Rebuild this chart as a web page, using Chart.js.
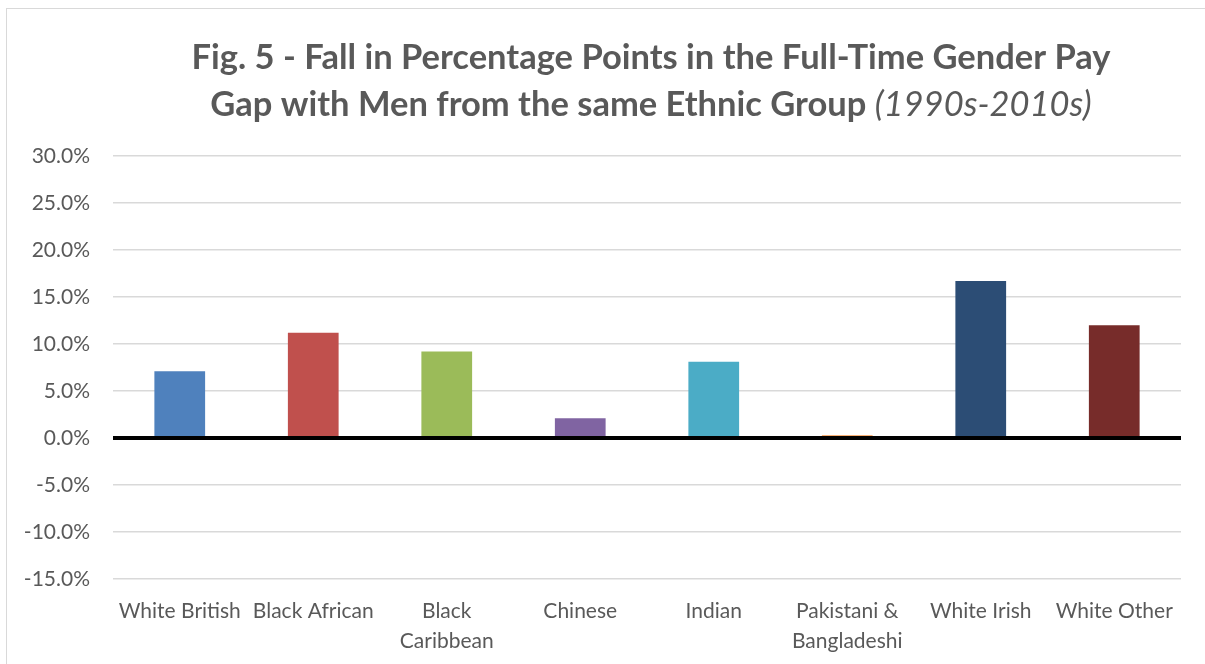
<!DOCTYPE html>
<html>
<head>
<meta charset="utf-8">
<script src="https://cdn.jsdelivr.net/npm/chart.js@4.4.0/dist/chart.umd.min.js"></script>
<style>
  html, body { margin: 0; padding: 0; background: #fff; }
  #wrap { position: absolute; left: 0; top: 0; width: 1205px; height: 664px; }
  #frame { position: absolute; left: 6px; top: 8px; width: 1240px; height: 700px; border: 1.5px solid #d9d9d9; }
</style>
</head>
<body>
<div id="wrap">
  <div id="frame"></div>
  <canvas id="myChart" width="1205" height="664"></canvas>
</div>
<script>
const categories = [
    "White British", "Black African", ["Black", "Caribbean"], "Chinese",
    "Indian", ["Pakistani &", "Bangladeshi"], "White Irish", "White Other"
];
const fallValues = [7.1, 11.2, 9.2, 2.1, 8.1, 0.3, 16.7, 12.0];
const barColors = [
    "#4F81BD", "#C0504D", "#9BBB59", "#8064A2",
    "#4BACC6", "#F79646", "#2C4D75", "#772C2A"
];
const yMin = -15;
const yMax = 30;
const yStep = 5;

const titleLine1 = "Fig. 5 - Fall in Percentage Points in the Full-Time Gender Pay";
const titleLine2 = "Gap with Men from the same Ethnic Group";
const titleItalic = "(1990s-2010s)";

const titlePlugin = {
    id: "mixedTitle",
    afterDraw(chart) {
        const c = chart.ctx;
        const cx = 651;
        c.save();
        c.fillStyle = "#595959";
        c.textBaseline = "alphabetic";
        const bold = "bold 34.5px Lato";
        const ital = "italic 34.5px Lato";
        c.font = bold;
        c.textAlign = "center";
        c.fillText(titleLine1, cx, 69);
        c.textAlign = "left";
        const w1 = c.measureText(titleLine2 + " ").width;
        c.font = ital;
        const w2 = c.measureText(titleItalic).width;
        const x0 = cx - (w1 + w2) / 2;
        c.font = bold;
        c.fillText(titleLine2 + " ", x0, 116);
        c.font = ital;
        c.fillText(titleItalic, x0 + w1, 116);
        c.restore();
    }
};

const ctx = document.getElementById("myChart");

new Chart(ctx, {
    type: "bar",
    data: {
        labels: categories,
        datasets: [
            {
                data: fallValues,
                backgroundColor: barColors,
                borderWidth: 0,
                categoryPercentage: 1,
                barPercentage: 0.38
            }
        ]
    },
    options: {
        responsive: false,
        animation: false,
        layout: {
            padding: { top: 156, right: 24, left: 10, bottom: 0 }
        },
        scales: {
            x: {
                afterFit: (scale) => { scale.height = 85; },
                grid: { display: false, drawTicks: false },
                border: { display: false },
                ticks: {
                    color: "#595959",
                    font: { family: "Lato", size: 21, lineHeight: 1.4 },
                    maxRotation: 0,
                    autoSkip: false,
                    padding: 18
                }
            },
            y: {
                min: yMin,
                max: yMax,
                afterFit: (scale) => { scale.width = 103; },
                grid: {
                    color: (c) => c.tick && c.tick.value === 0 ? "#000000" : "#d9d9d9",
                    lineWidth: (c) => c.tick && c.tick.value === 0 ? 4 : 1.5,
                    drawTicks: false
                },
                border: { display: false },
                ticks: {
                    stepSize: yStep,
                    color: "#595959",
                    font: { family: "Lato", size: 21 },
                    padding: 23,
                    callback: (v) => v.toFixed(1) + "%"
                }
            }
        },
        plugins: {
            legend: { display: false },
            tooltip: { enabled: false }
        }
    },
    plugins: [titlePlugin]
});
</script>
</body>
</html>
